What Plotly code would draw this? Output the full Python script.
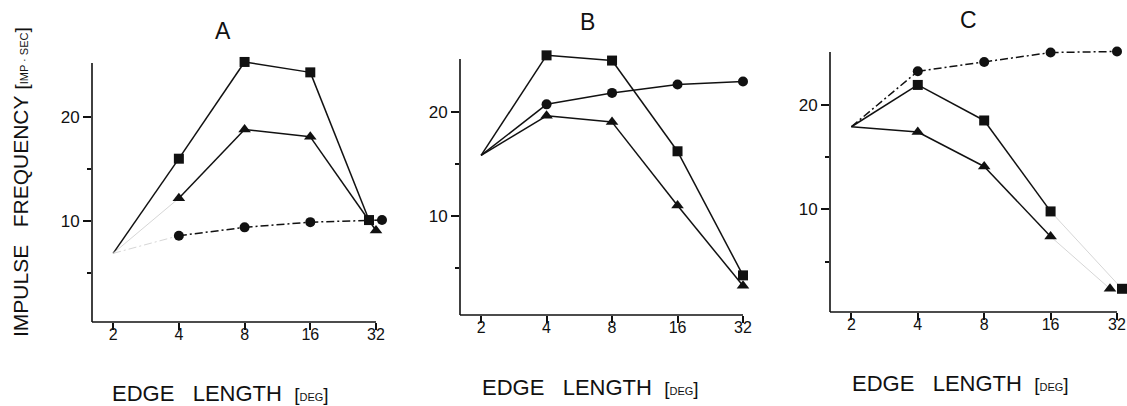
import math
import plotly.graph_objects as go

# ---- data -------------------------------------------------------------
edge_deg = [2, 4, 8, 16, 32]
x_tick_text = ["2", "4", "8", "16", "32"]
y_tick_vals = [10, 20]
y_minor_vals = [5, 15]

# panel A
a_square = [6.9, 16.0, 25.3, 24.3, 10.1]
a_triangle = [6.9, 12.2, 18.8, 18.1, 9.1]
a_circle = [6.9, 8.6, 9.4, 9.9, 10.1]
# panel B
b_square = [15.8, 25.4, 24.9, 16.2, 4.3]
b_circle = [15.8, 20.7, 21.8, 22.6, 22.9]
b_triangle = [15.8, 19.6, 19.0, 11.0, 3.3]
# panel C
c_circle = [17.9, 23.2, 24.1, 25.0, 25.1]
c_square = [17.9, 21.9, 18.5, 9.8, 2.4]
c_triangle = [17.9, 17.4, 14.1, 7.4, 2.4]

# ---- layout geometry (pixels) -----------------------------------------
W, H = 1127, 406
panels = [
    # axis frame: left/right(=32 deg) px, top/bottom px, y values at top/bottom
    dict(name="A", xpx=(92, 376), ypx=(63, 322), yr=(0.3, 25.2),
         title=(223, 31), xlab=(110, 393),
         series=[("square", a_square), ("triangle", a_triangle), ("circle", a_circle)]),
    dict(name="B", xpx=(460, 743), ypx=(59, 315), yr=(0.5, 25.05),
         title=(587, 22), xlab=(480, 387),
         series=[("square", b_square), ("circle", b_circle), ("triangle", b_triangle)]),
    dict(name="C", xpx=(830, 1117), ypx=(52, 312), yr=(0.18, 25.05),
         title=(968, 20), xlab=(850, 383),
         series=[("circle", c_circle), ("square", c_square), ("triangle", c_triangle)]),
]

X_MIN, X_MAX = 1.6, 32
PAD_R = 16   # px of room past the 32 deg tick for nudged markers
Y_TOP = 27.5 # plotting headroom above the drawn axis

# horizontal nudge (px) of overlapping end markers
dodge_px = {("A", "square"): -7, ("A", "circle"): 6,
            ("C", "triangle"): -7, ("C", "square"): 5}
# segments (index i -> i+1) that are barely printed
faint = {("A", "triangle"): [0], ("A", "circle"): [0],
         ("C", "square"): [3], ("C", "triangle"): [3]}

symbols = {"square": "square", "circle": "circle", "triangle": "triangle-up"}
msize = {"square": 10, "circle": 10, "triangle": 11}
INK = "#111111"
FAINT = "#d6d6d6"
SANS = "Liberation Sans, Arial, sans-serif"

fig = go.Figure()

for k, p in enumerate(panels):
    sfx = "" if k == 0 else str(k + 1)
    xa, ya = "x" + sfx, "y" + sfx
    x0px, x1px = p["xpx"]
    top_px, bot_px = p["ypx"]
    pad = min(PAD_R, W - x1px)
    octave_px = (x1px - x0px) / math.log2(X_MAX / X_MIN)
    ppu = (bot_px - top_px) / (p["yr"][1] - p["yr"][0])
    ext_top_px = bot_px - (Y_TOP - p["yr"][0]) * ppu

    for sname, vals in p["series"]:
        d = dodge_px.get((p["name"], sname), 0)
        xs = list(edge_deg)
        xs[-1] = xs[-1] * 2 ** (d / octave_px)
        dash = "solid"
        if sname == "circle" and p["name"] in ("A", "C"):
            dash = "8px,3px,2px,3px"
        fl = faint.get((p["name"], sname), [])
        for i in range(len(xs) - 1):
            fig.add_trace(go.Scatter(
                x=[xs[i], xs[i + 1]], y=[vals[i], vals[i + 1]],
                mode="lines", xaxis=xa, yaxis=ya, cliponaxis=False,
                line=dict(color=FAINT if i in fl else INK,
                          width=1.0 if i in fl else 1.5, dash=dash),
                showlegend=False, hoverinfo="skip"))
        # markers (the common starting point at 2 deg carries none)
        fig.add_trace(go.Scatter(
            x=xs[1:], y=vals[1:], mode="markers", xaxis=xa, yaxis=ya,
            cliponaxis=False,
            marker=dict(symbol=symbols[sname], size=msize[sname], color=INK,
                        line=dict(width=0)),
            showlegend=False, name=sname))

    fig.layout["xaxis" + sfx] = dict(
        type="log",
        range=[math.log10(X_MIN), math.log10(X_MAX) + pad / octave_px * math.log10(2)],
        domain=[x0px / W, (x1px + pad) / W],
        anchor=ya, showline=False, showgrid=False, zeroline=False,
        ticks="outside", ticklen=7, tickwidth=1.5, tickcolor=INK,
        tickvals=edge_deg, ticktext=x_tick_text, ticklabelstandoff=-9,
        tickfont=dict(family=SANS, size=16, color=INK))
    fig.layout["yaxis" + sfx] = dict(
        range=[p["yr"][0], Y_TOP],
        domain=[1 - bot_px / H, 1 - ext_top_px / H],
        anchor=xa, showline=False, showgrid=False, zeroline=False,
        ticks="outside", ticklen=8, tickwidth=1.5, tickcolor=INK,
        tickvals=y_tick_vals, ticktext=[str(v) for v in y_tick_vals],
        tickfont=dict(family=SANS, size=17, color=INK),
        minor=dict(tickvals=y_minor_vals, ticks="outside", ticklen=4,
                   tickwidth=1.5, tickcolor=INK, showgrid=False))

    # axis frame lines
    fig.add_shape(type="line", xref="paper", yref="paper",
                  x0=x0px / W, x1=x0px / W, y0=1 - bot_px / H, y1=1 - top_px / H,
                  line=dict(color=INK, width=1.6))
    fig.add_shape(type="line", xref="paper", yref="paper",
                  x0=x0px / W, x1=x1px / W, y0=1 - bot_px / H, y1=1 - bot_px / H,
                  line=dict(color=INK, width=1.6))

    fig.add_annotation(x=p["title"][0] / W, y=1 - p["title"][1] / H,
                       xref="paper", yref="paper", text=p["name"],
                       showarrow=False, xanchor="center", yanchor="middle",
                       font=dict(family=SANS, size=23, color=INK))
    fig.add_annotation(
        x=p["xlab"][0] / W, y=1 - p["xlab"][1] / H, xref="paper", yref="paper",
        text="EDGE&nbsp;&nbsp;&nbsp;LENGTH&nbsp;&nbsp;<span style='font-size:19px'>[</span>"
             "<span style='font-size:11px'>DEG</span><span style='font-size:19px'>]</span>",
        showarrow=False, xanchor="left", yanchor="middle",
        font=dict(family=SANS, size=22, color=INK))

fig.add_annotation(
    x=20 / W, y=1 - 182 / H, xref="paper", yref="paper", textangle=-90,
    text="IMPULSE&nbsp;&nbsp;&nbsp;FREQUENCY&nbsp;<span style='font-size:19px'>[</span>"
         "<span style='font-size:11px'>IMP · SEC</span><span style='font-size:19px'>]</span>",
    showarrow=False, xanchor="center", yanchor="middle",
    font=dict(family=SANS, size=21, color=INK))

fig.update_layout(width=W, height=H, margin=dict(l=0, r=0, t=0, b=0),
                  paper_bgcolor="white", plot_bgcolor="white")

fig.write_html("out.html")
